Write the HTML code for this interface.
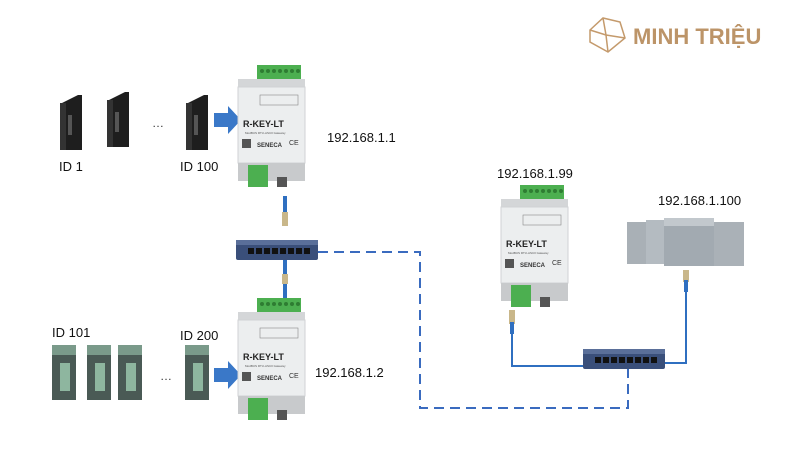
<!DOCTYPE html>
<html><head><meta charset="utf-8"><style>
html,body{margin:0;padding:0;background:#fff;}
svg{display:block}
text{font-family:"Liberation Sans",sans-serif;}
</style></head><body>
<svg width="800" height="450" viewBox="0 0 800 450" xmlns="http://www.w3.org/2000/svg">
<defs>
<g id="rkey">
  <rect x="22" y="0" width="44" height="22" fill="#4caf50"/>
  <g fill="#2e7d32"><circle cx="27" cy="6" r="2"/><circle cx="33" cy="6" r="2"/><circle cx="39" cy="6" r="2"/><circle cx="45" cy="6" r="2"/><circle cx="51" cy="6" r="2"/><circle cx="57" cy="6" r="2"/><circle cx="63" cy="6" r="2"/></g>
  <rect x="3" y="14" width="67" height="10" fill="#d4d6d8"/>
  <rect x="3" y="22" width="67" height="76" fill="#eceeef" stroke="#d0d2d4"/>
  <rect x="25" y="30" width="38" height="10" fill="none" stroke="#888" stroke-width="0.6"/>
  <text x="8" y="62" font-size="9" font-weight="bold" fill="#222">R-KEY-LT</text>
  <text x="10" y="69" font-size="3" fill="#555">ModBUS RTU-ASCII Gateway</text>
  <rect x="7" y="74" width="9" height="9" fill="#555"/>
  <text x="22" y="82" font-size="6" font-weight="bold" fill="#333">SENECA</text>
  <text x="54" y="80" font-size="7" fill="#333">CE</text>
  <rect x="3" y="98" width="67" height="18" fill="#c8cacc"/>
  <rect x="13" y="100" width="20" height="22" fill="#4caf50"/>
  <rect x="42" y="112" width="10" height="10" fill="#555"/>
</g>
<g id="sw">
  <rect x="0" y="0" width="82" height="20" rx="2" fill="#3a4f7a"/>
  <rect x="0" y="0" width="82" height="5" fill="#5a6f99"/>
  <g fill="#111"><rect x="12" y="8" width="6" height="6"/><rect x="20" y="8" width="6" height="6"/><rect x="28" y="8" width="6" height="6"/><rect x="36" y="8" width="6" height="6"/><rect x="44" y="8" width="6" height="6"/><rect x="52" y="8" width="6" height="6"/><rect x="60" y="8" width="6" height="6"/><rect x="68" y="8" width="6" height="6"/></g>
</g>
<g id="blk">
  <path d="M2 8 L18 0 L22 0 L22 55 L2 55 Z" fill="#1e1e1e"/>
  <rect x="0" y="8" width="6" height="47" fill="#333"/>
  <rect x="8" y="20" width="4" height="20" fill="#555"/>
</g>
<g id="grn">
  <rect x="0" y="0" width="24" height="55" fill="#4a5a55"/>
  <rect x="0" y="0" width="24" height="10" fill="#7a9a8a"/>
  <rect x="8" y="18" width="10" height="28" fill="#8eb69f"/>
</g>
</defs>

<!-- logo -->
<g fill="none" stroke="#c49a6c" stroke-width="1.5">
  <path d="M590 30 L603 18 L620 22 L625 38 L608 52 L590 42 Z"/>
  <path d="M603 18 L606 35 L590 30 M606 35 L625 38 M606 35 L608 52"/>
</g>
<text x="633" y="44" font-size="22" font-weight="bold" fill="#bc9468">MINH TRIỆU</text>

<!-- top modules -->
<use href="#blk" x="60" y="95"/>
<use href="#blk" x="107" y="92"/>
<use href="#blk" x="186" y="95"/>
<text x="152" y="127" font-size="12" fill="#333">…</text>
<text x="59" y="171" font-size="13" fill="#111">ID 1</text>
<text x="180" y="171" font-size="13" fill="#111">ID 100</text>
<path d="M214 113 L228 113 L228 106 L241 120 L228 134 L228 127 L214 127 Z" fill="#3a78c8"/>

<use href="#rkey" x="235" y="65"/>
<text x="327" y="142" font-size="13" fill="#111">192.168.1.1</text>

<!-- top cable -->
<rect x="283" y="196" width="4" height="18" fill="#2f6fc0"/>
<rect x="282" y="212" width="6" height="14" fill="#c9b78a"/>
<use href="#sw" x="236" y="240"/>
<rect x="283" y="260" width="4" height="40" fill="#2f6fc0"/>
<rect x="282" y="274" width="6" height="10" fill="#c9b78a"/>

<!-- dashed -->
<path d="M318 252 L420 252 L420 408 L628 408 L628 365" fill="none" stroke="#3a6bbf" stroke-width="2" stroke-dasharray="10,6"/>

<!-- bottom left -->
<text x="52" y="337" font-size="13" fill="#111">ID 101</text>
<text x="180" y="340" font-size="13" fill="#111">ID 200</text>
<use href="#grn" x="52" y="345"/>
<use href="#grn" x="87" y="345"/>
<use href="#grn" x="118" y="345"/>
<use href="#grn" x="185" y="345"/>
<text x="160" y="380" font-size="12" fill="#333">…</text>
<path d="M214 368 L228 368 L228 361 L241 375 L228 389 L228 382 L214 382 Z" fill="#3a78c8"/>
<use href="#rkey" x="235" y="298"/>
<text x="315" y="377" font-size="13" fill="#111">192.168.1.2</text>

<!-- right side -->
<text x="497" y="178" font-size="13" fill="#111">192.168.1.99</text>
<use href="#rkey" x="498" y="185"/>
<text x="658" y="205" font-size="13" fill="#111">192.168.1.100</text>
<g>
  <rect x="627" y="222" width="22" height="42" fill="#a9b0b6"/>
  <rect x="646" y="220" width="20" height="44" fill="#b4bbc1"/>
  <rect x="664" y="218" width="50" height="48" fill="#a2aab1"/>
  <rect x="664" y="218" width="50" height="8" fill="#c2c8cd"/>
  <rect x="714" y="222" width="30" height="44" fill="#aab1b7"/>
</g>
<path d="M512 332 L512 366 L584 366" fill="none" stroke="#2f6fc0" stroke-width="2"/>
<rect x="509" y="310" width="6" height="14" fill="#c9b78a"/>
<rect x="510" y="322" width="4" height="12" fill="#2f6fc0"/>
<path d="M686 290 L686 363 L662 363" fill="none" stroke="#2f6fc0" stroke-width="2"/>
<rect x="683" y="270" width="6" height="12" fill="#c9b78a"/>
<rect x="684" y="280" width="4" height="12" fill="#2f6fc0"/>
<use href="#sw" x="583" y="349"/>
</svg>
</body></html>
